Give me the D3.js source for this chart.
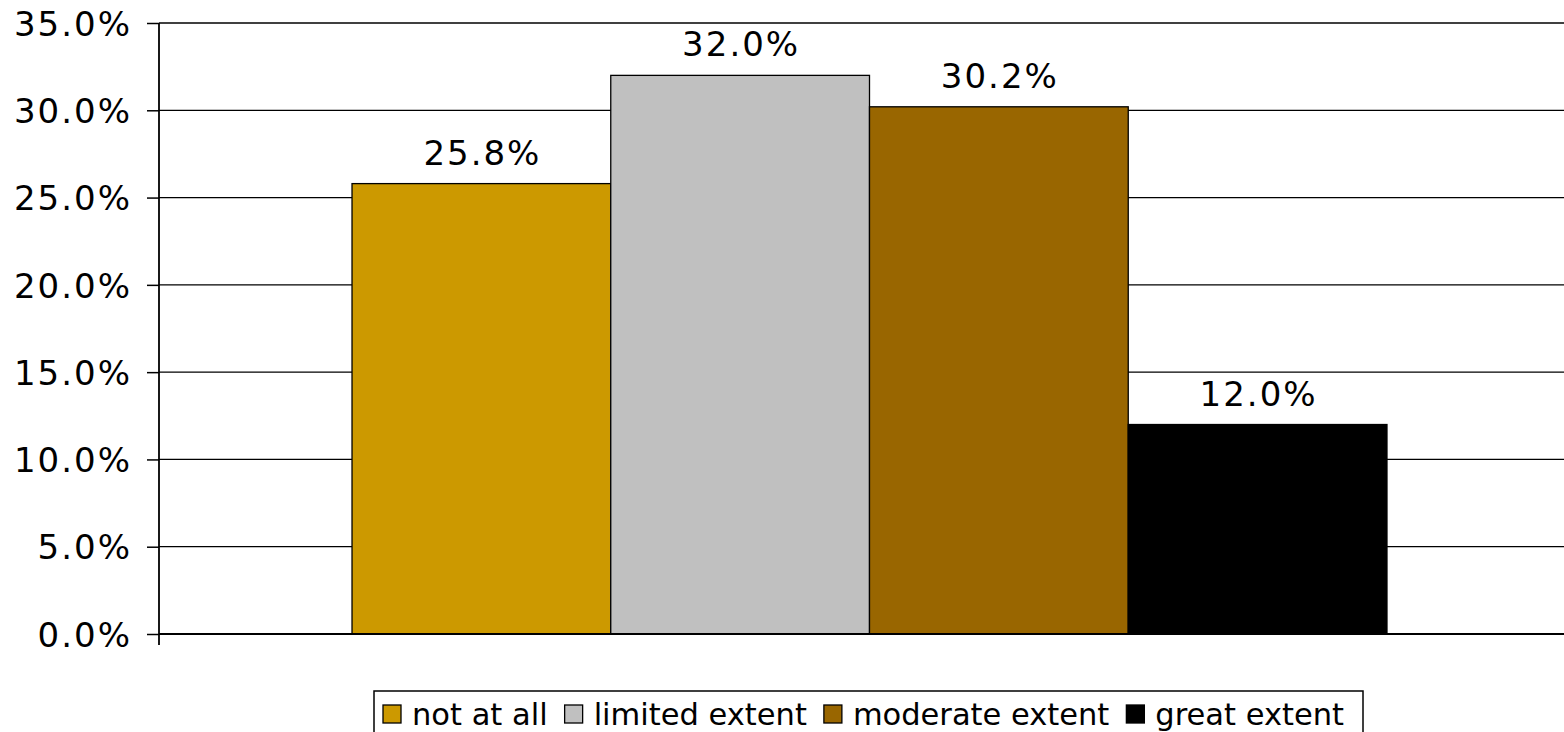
<!DOCTYPE html>
<html>
<head>
<meta charset="utf-8">
<script src="https://cdn.jsdelivr.net/npm/d3@7"></script>
<style>
  html, body { margin: 0; padding: 0; background: #fff; }
  svg { display: block; }
  text { font-family: "DejaVu Sans", Verdana, sans-serif; fill: #000; }
</style>
</head>
<body>
<svg id="chart" width="1564" height="732"></svg>
<script>
// Share of responses by extent
const seriesNames = ["not at all", "limited extent", "moderate extent", "great extent"];
const seriesValues = [25.8, 32.0, 30.2, 12.0];
const seriesColors = ["#CC9900", "#C0C0C0", "#996600", "#000000"];
const tickValues = [0, 5, 10, 15, 20, 25, 30, 35];
const category = [""];

const W = 1564, H = 732;
const plot = { left: 159, right: 1580, top: 23, bottom: 634 };

const svg = d3.select("#chart");

const y = d3.scaleLinear().domain([0, 35]).range([plot.bottom, plot.top]);
const x0 = d3.scaleBand().domain(category).range([plot.left, plot.right])
  .paddingInner(0).paddingOuter(0.1865);
const x1 = d3.scaleBand().domain(seriesNames).range([0, x0.bandwidth()]).padding(0);

// Horizontal gridlines
svg.append("g")
  .selectAll("line")
  .data(tickValues)
  .join("line")
  .attr("x1", plot.left).attr("x2", W)
  .attr("y1", d => y(d)).attr("y2", d => y(d))
  .attr("stroke", "#000").attr("stroke-width", 1.3);

// Bars
const barG = svg.append("g").attr("transform", `translate(${x0(category[0])},0)`);
barG.selectAll("rect")
  .data(seriesValues)
  .join("rect")
  .attr("x", (d, i) => x1(seriesNames[i]))
  .attr("y", d => y(d))
  .attr("width", x1.bandwidth())
  .attr("height", d => y(0) - y(d))
  .attr("fill", (d, i) => seriesColors[i])
  .attr("stroke", "#000")
  .attr("stroke-width", 1.3);

// Value labels
barG.selectAll("text")
  .data(seriesValues)
  .join("text")
  .attr("x", (d, i) => x1(seriesNames[i]) + x1.bandwidth() / 2 + 1)
  .attr("y", d => y(d) - 19)
  .attr("text-anchor", "middle")
  .style("font-size", "34px")
  .style("letter-spacing", "2px")
  .text(d => d.toFixed(1) + "%");

// Y axis
const yAxis = d3.axisLeft(y)
  .tickValues(tickValues)
  .tickFormat(d => d.toFixed(1) + "%")
  .tickSize(12)
  .tickPadding(15);
const yg = svg.append("g").attr("transform", `translate(${plot.left},0)`).call(yAxis);
yg.select(".domain").remove();
yg.selectAll(".tick line").attr("stroke", "#000").attr("stroke-width", 1.5);
yg.selectAll(".tick text")
  .style("font-size", "34px")
  .style("font-family", "DejaVu Sans, Verdana, sans-serif")
  .style("letter-spacing", "2px")
  .attr("dy", "0.36em");
yg.append("line")
  .attr("x1", 0).attr("x2", 0)
  .attr("y1", plot.top).attr("y2", plot.bottom + 11)
  .attr("stroke", "#000").attr("stroke-width", 1.8);

// Baseline
svg.append("line")
  .attr("x1", plot.left).attr("x2", W)
  .attr("y1", y(0)).attr("y2", y(0))
  .attr("stroke", "#000").attr("stroke-width", 2);

// Legend
const legend = { left: 374, right: 1363, top: 691, bottom: 760, padLeft: 9 };
const lg = svg.append("g");
lg.append("rect")
  .attr("x", legend.left).attr("y", legend.top)
  .attr("width", legend.right - legend.left).attr("height", legend.bottom - legend.top)
  .attr("fill", "#fff").attr("stroke", "#000").attr("stroke-width", 1.5);

const sw = 18, gapSwText = 11, gapItem = 17;
const items = lg.selectAll("g.item").data(seriesNames).join("g").attr("class", "item");
items.append("rect")
  .attr("width", sw).attr("height", 18)
  .attr("y", 705)
  .attr("fill", (d, i) => seriesColors[i])
  .attr("stroke", "#000").attr("stroke-width", 1.3);
items.append("text")
  .attr("y", 725)
  .style("font-size", "30.5px")
  .text(d => d);

const widths = [];
items.selectAll("text").each(function () { widths.push(this.getBBox().width); });
let cx = legend.left + legend.padLeft;
items.each(function (d, i) {
  const g = d3.select(this);
  g.select("rect").attr("x", cx);
  g.select("text").attr("x", cx + sw + gapSwText);
  cx += sw + gapSwText + widths[i] + gapItem;
});
</script>
</body>
</html>
